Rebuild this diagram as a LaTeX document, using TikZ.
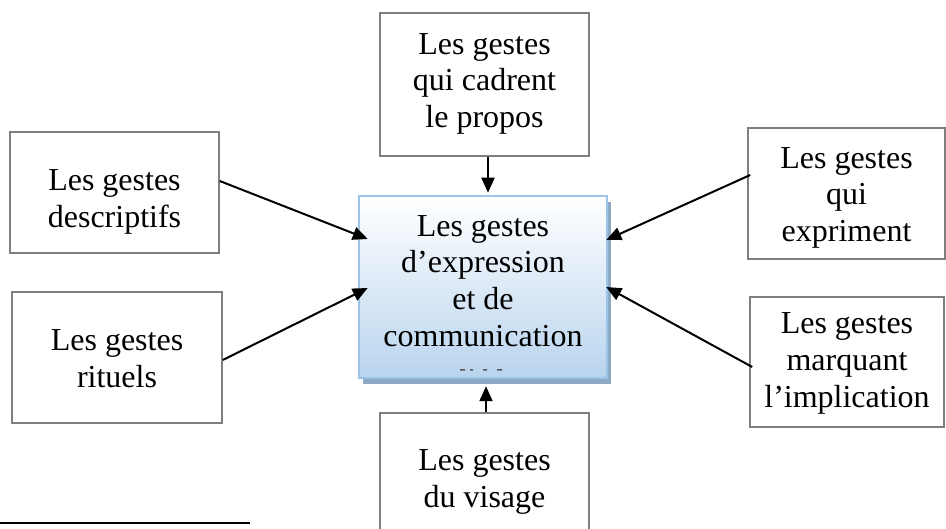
\documentclass[tikz,border=0pt]{standalone}
\usepackage{fontspec}
\setmainfont{Liberation Serif}
\usetikzlibrary{arrows.meta,shadows}
\definecolor{boxgray}{HTML}{7F7F7F}
\definecolor{ctrborder}{HTML}{9DC3E6}
\definecolor{ctrfill}{HTML}{B9D4EE}
\definecolor{ctrshadow}{HTML}{8EA9C6}
% lines of text, shifted down by #1 without changing the reported size
\newcommand{\shiftedlines}[2]{\raisebox{-#1}[\height][\depth]{\begin{tabular}{@{}c@{}}#2\end{tabular}}}
\tikzset{
  gbox/.style={draw=boxgray, line width=1.5pt, fill=white, inner sep=0pt,
    font=\fontsize{32}{36.7}\selectfont},
  cbox/.style={draw=ctrborder, line width=2.5pt, top color=white, bottom color=ctrfill,
    inner sep=0pt, font=\fontsize{32}{36.7}\selectfont,
    drop shadow={shadow xshift=3.5pt, shadow yshift=-6pt, fill=ctrshadow, opacity=1}},
  conn/.style={line width=2pt, -{Triangle[length=15pt,width=13pt]}},
}
\begin{document}
\begin{tikzpicture}[x=1pt,y=1pt]
\useasboundingbox (0,0) rectangle (946,-529);
\clip (0,0) rectangle (946,-529);
\node[gbox, minimum width=209pt, minimum height=143pt] (cadre) at (484.5,-84.5) {\shiftedlines{-1pt}{Les gestes\\qui cadrent\\le propos}};
\node[gbox, minimum width=209pt, minimum height=121pt] (desc) at (114.5,-192.5) {\shiftedlines{9pt}{Les gestes\\descriptifs}};
\node[gbox, minimum width=210pt, minimum height=131pt] (rit) at (117,-357.5) {\shiftedlines{4pt}{Les gestes\\rituels}};
\node[gbox, minimum width=197pt, minimum height=131pt] (expr) at (846.5,-193.5) {\shiftedlines{4pt}{Les gestes\\qui\\expriment}};
\node[gbox, minimum width=194pt, minimum height=130pt] (impl) at (847,-362) {\shiftedlines{1pt}{Les gestes\\marquant\\l’implication}};
\node[gbox, minimum width=209pt, minimum height=134pt] (vis) at (484.5,-480) {\shiftedlines{2pt}{Les gestes\\du visage}};
\node[cbox, minimum width=248pt, minimum height=182pt] (ctr) at (483,-287) {\shiftedlines{-3pt}{Les gestes\\d’expression\\et de\\communication}};
% clipped fragments of a fifth text line
\fill[black!65] ([xshift=-23pt,yshift=10pt]ctr.south) rectangle ++(5,-1.5)
  ([xshift=-13pt,yshift=10pt]ctr.south) rectangle ++(3,-1.5)
  ([xshift=0pt,yshift=10pt]ctr.south) rectangle ++(4,-1.5)
  ([xshift=14pt,yshift=10pt]ctr.south) rectangle ++(5,-1.5);
\draw[conn] ([xshift=3.5pt]cadre.south) -- ([xshift=5pt,yshift=2pt]ctr.north);
\draw[conn] ([yshift=11.5pt]desc.east) -- ([xshift=10pt,yshift=48pt]ctr.west);
\draw[conn] ([yshift=-2.5pt]rit.east) -- ([xshift=10pt,yshift=-1pt]ctr.west);
\draw[conn] ([xshift=3pt,yshift=18.5pt]expr.west) -- ([xshift=-2pt,yshift=47pt]ctr.east);
\draw[conn] ([xshift=3pt,yshift=-5pt]impl.west) -- ([xshift=-2pt]ctr.east);
\draw[conn] ([xshift=1.5pt]vis.north) -- ([xshift=3pt,yshift=-7pt]ctr.south);
% footnote rule
\draw[line width=2pt] (0,-523) -- (250,-523);
\end{tikzpicture}
\end{document}
